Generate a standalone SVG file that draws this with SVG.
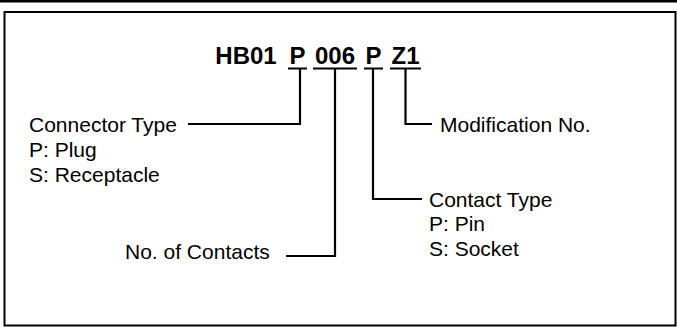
<svg xmlns="http://www.w3.org/2000/svg" width="677" height="327" viewBox="0 0 677 327">
<style>
.t{font-family:"Liberation Sans",Arial,sans-serif;font-size:21px;fill:#000}
.h{font-family:"Liberation Sans",Arial,sans-serif;font-size:24px;font-weight:bold;fill:#000;text-anchor:middle}
.c{fill:none;stroke:#000;stroke-width:2.2}
</style>
<rect x="0" y="0" width="677" height="2.5" fill="#000"/>
<rect x="4.5" y="12" width="671" height="313.5" fill="#fff" stroke="#000" stroke-width="2"/>
<g id="title">
<text class="h" x="246" y="64">HB01</text>
<text class="h" x="297.5" y="64">P</text>
<text class="h" x="335" y="64">006</text>
<text class="h" x="373.5" y="64">P</text>
<text class="h" x="405.5" y="64">Z1</text>
</g>
<g id="connectors">
<path class="c" d="M288,68.5 H307 M313,68.5 H357 M364,68.5 H383 M390,68.5 H421"/>
<path class="c" d="M300,68.5 V124 H188"/>
<path class="c" d="M335,68.5 V256 H286"/>
<path class="c" d="M373,68.5 V199 H422"/>
<path class="c" d="M405.5,68.5 V124 H432"/>
</g>
<g id="connector-type">
<text class="t" x="29" y="132">Connector Type</text>
<text class="t" x="29" y="157">P: Plug</text>
<text class="t" x="29" y="182">S: Receptacle</text>
</g>
<g id="modification-no">
<text class="t" x="440" y="132">Modification No.</text>
</g>
<g id="contact-type">
<text class="t" x="429" y="207">Contact Type</text>
<text class="t" x="429" y="231">P: Pin</text>
<text class="t" x="429" y="256">S: Socket</text>
</g>
<g id="no-of-contacts">
<text class="t" x="125" y="259">No. of Contacts</text>
</g>
</svg>
